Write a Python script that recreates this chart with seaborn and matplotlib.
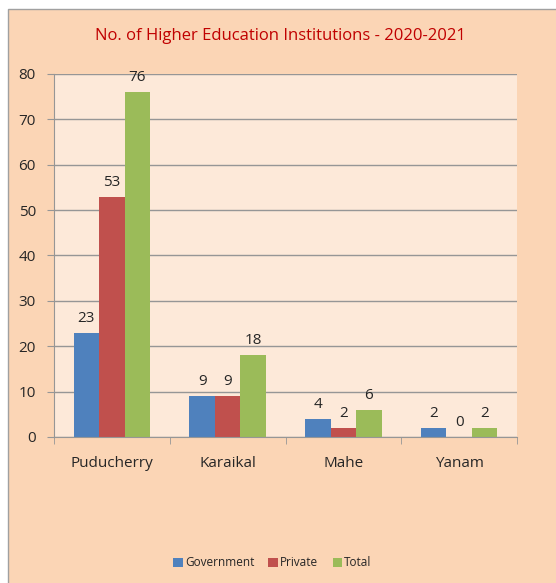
"""No. of Higher Education Institutions - 2020-2021"""

import matplotlib
matplotlib.use('Agg')
import matplotlib.pyplot as plt
from matplotlib.patches import Rectangle
from matplotlib.ticker import MultipleLocator, FixedLocator, NullFormatter
import pandas as pd
import seaborn as sns

regions = ['Puducherry', 'Karaikal', 'Mahe', 'Yanam']
government = [23, 9, 4, 2]
private = [53, 9, 2, 0]
total = [76, 18, 6, 2]
series = ['Government', 'Private', 'Total']
colors = ['#4F81BD', '#C0504D', '#9BBB59']

# long form table for seaborn
df = pd.DataFrame({
    'Region': regions * 3,
    'Type': [s for s in series for _ in regions],
    'Count': government + private + total,
})

sns.set_style('white')
plt.rcParams['font.family'] = ['Open Sans', 'DejaVu Sans']

fig = plt.figure(figsize=(5.56, 5.83), dpi=100)
fig.patch.set_facecolor('white')
# outer chart area
fig.patches.append(Rectangle((8 / 556, -0.01), 1.0, (583 - 9) / 583 + 0.01,
                             transform=fig.transFigure, facecolor='#FBD5B5',
                             edgecolor='#A0A0A0', linewidth=1, zorder=-1))

ax = fig.add_axes([54 / 556, (583 - 437) / 583, 463 / 556, 363 / 583])
ax.set_zorder(1)
ax.set_facecolor('#FDE9D9')

sns.barplot(data=df, x='Region', y='Count', hue='Type', palette=colors,
            width=0.66, gap=0, saturation=1, linewidth=0, ax=ax, legend=True)

for cont in ax.containers:
    ax.bar_label(cont, padding=5, fontsize=11)

ax.set_ylim(0, 80)
ax.set_xlim(-0.5, 3.5)
ax.yaxis.set_major_locator(MultipleLocator(10))
ax.grid(axis='y', color='#969696', linewidth=1)
ax.set_axisbelow(True)
for side in ['top', 'right']:
    ax.spines[side].set_visible(False)
for side in ['left', 'bottom']:
    ax.spines[side].set_color('#969696')
ax.tick_params(axis='y', which='major', left=True, length=5, color='#969696',
               labelsize=11, pad=8)
ax.tick_params(axis='x', which='major', bottom=False, labelsize=11, pad=10)
ax.xaxis.set_minor_locator(FixedLocator([-0.5, 0.5, 1.5, 2.5, 3.5]))
ax.xaxis.set_minor_formatter(NullFormatter())
ax.tick_params(axis='x', which='minor', bottom=True, length=5, color='#969696')
ax.set_xlabel('')
ax.set_ylabel('')

fig.text(280 / 556, 1 - 36 / 583, 'No. of Higher Education Institutions - 2020-2021',
         color='#C00000', fontsize=12, ha='center', va='center')

handles, labels = ax.get_legend_handles_labels()
ax.legend_.remove()
fig.legend(handles, labels, loc='center', bbox_to_anchor=(0.49, 1 - 563 / 583),
           ncol=3, frameon=False, fontsize=8.5, handlelength=0.8,
           handleheight=0.8, handletextpad=0.2, columnspacing=1.2)

fig.savefig('out.png', dpi=100)
